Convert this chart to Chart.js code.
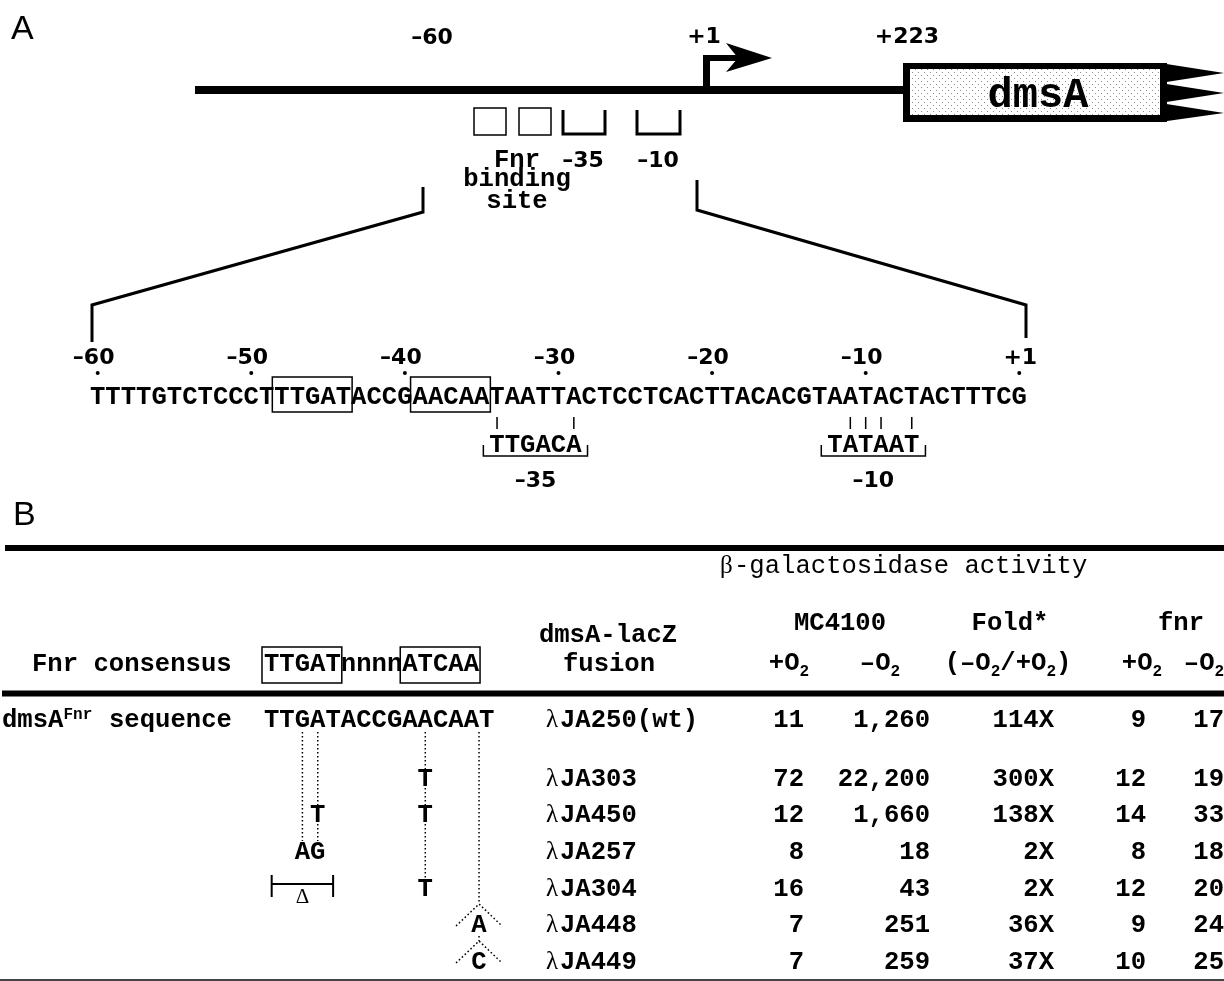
<!DOCTYPE html>
<html>
<head>
<meta charset="utf-8">
<script src="https://cdn.jsdelivr.net/npm/chart.js@4"></script>
<style>
  html, body { margin: 0; padding: 0; background: #fff; }
  #wrap { width: 1224px; height: 981px; }
</style>
</head>
<body>
<div id="wrap"><canvas id="fig" width="1224" height="981"></canvas></div>
<script>
// dmsA promoter region, -60 .. +1
const promoterSeq = 'TTTTGTCTCCCTTTGATACCGAACAATAATTACTCCTCACTTACACGTAATACTACTTTCG';
const seqTickLabels = ['–60', '–50', '–40', '–30', '–20', '–10', '+1'];
const seqTickIndex = [0, 10, 20, 30, 40, 50, 60];
const fnrHalfSites = [[12, 16], [21, 25]];
const minus35 = { consensus: 'TTGACA', start: 26, label: '–35' };
const minus10 = { consensus: 'TATAAT', start: 48, label: '–10' };
const mapLabels = ['–60', '+1', '+223'];
const geneName = 'dmsA';

// table B
const fnrConsensus = 'TTGATnnnnATCAA';
const fnrSiteSeq = 'TTGATACCGAACAAT';
const strains = ['JA250(wt)', 'JA303', 'JA450', 'JA257', 'JA304', 'JA448', 'JA449'];
const mcAerobic = [11, 72, 12, 8, 16, 7, 7];
const mcAnaerobic = [1260, 22200, 1660, 18, 43, 251, 259];
const foldChange = [114, 300, 138, 2, 2, 36, 37];
const fnrAerobic = [9, 12, 14, 8, 12, 9, 10];
const fnrAnaerobic = [17, 19, 33, 18, 20, 24, 25];
// changes in fnrSiteSeq: [index, new base]
const substitutions = [[], [[10, 'T']], [[3, 'T'], [10, 'T']], [[2, 'A'], [3, 'G']], [[10, 'T']], [], []];
const deletions = [null, null, null, null, [0, 4], null, null];
const insertions = [null, null, null, null, null, [14, 'A'], [14, 'C']];

const MONO = '"Liberation Mono", "DejaVu Sans Mono", monospace';
const SANS = '"DejaVu Sans", "Liberation Sans", sans-serif';
const SERIF = '"Liberation Serif", "DejaVu Serif", serif';
const F_SEQ = 'bold 25.6px ' + MONO;
const F_REG = '25.6px ' + MONO;
const F_SMALL = 'bold 16px ' + MONO;
const F_NUM = 'bold 22px ' + SANS;
const F_PANEL = '34px "Liberation Sans", sans-serif';
const F_GREEK = '25px ' + SERIF;

const CW = 15.36;      // advance of the mono font at 25.6px
const SEQ_LEFT = 90;
const TAB_LEFT = 264;
const rowY = [727, 786, 822, 859, 896, 932, 969];
const colRight = [804, 930, 1054, 1146, 1224];

function seqCx(i) { return SEQ_LEFT + CW * (i + 0.5); }
function tabCx(i) { return TAB_LEFT + CW * (i + 0.5); }

const lines = [];
function addLine(pts, w, dash, color) {
  lines.push({
    data: pts.map(p => ({ x: p[0], y: p[1] })),
    showLine: true,
    borderColor: color || '#000',
    borderWidth: w,
    borderDash: dash || [],
    pointRadius: 0,
    pointHoverRadius: 0,
    fill: false,
    tension: 0,
    borderCapStyle: 'butt',
    borderJoinStyle: 'miter'
  });
}

// panel A map
addLine([[195, 90], [905, 90]], 8);
addLine([[423, 187], [423, 212], [92, 305], [92, 342]], 3);
addLine([[697, 180], [697, 210], [1026, 305], [1026, 338]], 3);
addLine([[563, 110], [563, 134], [605, 134], [605, 110]], 3);
addLine([[637, 110], [637, 134], [680, 134], [680, 110]], 3);

// hexamer matches and brackets
[minus35, minus10].forEach(h => {
  for (let k = 0; k < h.consensus.length; k++) {
    if (promoterSeq[h.start + k] === h.consensus[k]) {
      addLine([[seqCx(h.start + k), 417], [seqCx(h.start + k), 429]], 1.5);
    }
  }
  const l = SEQ_LEFT + CW * h.start - 6;
  const r = SEQ_LEFT + CW * (h.start + h.consensus.length) + 6;
  addLine([[l, 445], [l, 456], [r, 456], [r, 445]], 1.5);
});

// table rules
addLine([[5, 548], [1224, 548]], 6);
addLine([[2, 693.5], [1224, 693.5]], 6);
addLine([[0, 980], [1224, 980]], 2, null, '#444');

// dotted guides for base changes
const DOT = [1.6, 2.4];
const lastRowFor = {};
substitutions.forEach((subs, r) => subs.forEach(s => { lastRowFor[s[0]] = r; }));
Object.keys(lastRowFor).forEach(i => {
  addLine([[tabCx(+i), 732], [tabCx(+i), rowY[lastRowFor[i]] - 18]], 1.5, DOT);
});
let prevBottom = 732;
insertions.forEach((ins, r) => {
  if (!ins) return;
  const x = TAB_LEFT + CW * ins[0];
  const apex = rowY[r] - 28;
  addLine([[x, prevBottom], [x, apex]], 1.5, DOT);
  addLine([[x - 23, rowY[r] - 6], [x, apex], [x + 23, rowY[r] - 6]], 1.5, DOT);
  prevBottom = rowY[r] + 4;
});
deletions.forEach((d, r) => {
  if (!d) return;
  const a = tabCx(d[0]), b = tabCx(d[1]), y = rowY[r] - 12;
  addLine([[a, y], [b, y]], 2);
  addLine([[a, y - 9], [a, y + 13]], 2);
  addLine([[b, y - 9], [b, y + 13]], 2);
});

function dotPattern(ctx) {
  const pc = document.createElement('canvas');
  pc.width = 6; pc.height = 6;
  const p = pc.getContext('2d');
  p.fillStyle = '#fff'; p.fillRect(0, 0, 6, 6);
  p.fillStyle = '#8a8a8a';
  p.fillRect(0, 0, 1, 1);
  p.fillRect(3, 3, 1, 1);
  return ctx.createPattern(pc, 'repeat');
}

const figurePlugin = {
  id: 'figure',
  beforeDraw(chart) {
    const ctx = chart.ctx;
    ctx.save();
    ctx.fillStyle = '#fff';
    ctx.fillRect(0, 0, chart.width, chart.height);
    ctx.restore();
  },
  afterDatasetsDraw(chart) {
    const ctx = chart.ctx;
    const X = v => chart.scales.x.getPixelForValue(v);
    const Y = v => chart.scales.y.getPixelForValue(v);
    ctx.save();
    ctx.fillStyle = '#000';
    ctx.strokeStyle = '#000';
    ctx.textBaseline = 'alphabetic';

    function text(s, x, y, font, align) {
      ctx.font = font;
      ctx.textAlign = align || 'left';
      ctx.fillText(s, X(x), Y(y));
    }
    function rich(parts, x, y, align) {
      let w = 0;
      parts.forEach(p => { ctx.font = p[1]; w += ctx.measureText(p[0]).width; });
      let cx = X(x);
      if (align === 'center') cx -= w / 2;
      if (align === 'right') cx -= w;
      ctx.textAlign = 'left';
      parts.forEach(p => {
        ctx.font = p[1];
        ctx.fillText(p[0], cx, Y(y + (p[2] || 0)));
        cx += ctx.measureText(p[0]).width;
      });
    }
    function box(x0, y0, x1, y1, w) {
      ctx.lineWidth = w;
      ctx.strokeRect(X(x0), Y(y0), X(x1) - X(x0), Y(y1) - Y(y0));
    }
    function poly(pts) {
      ctx.beginPath();
      pts.forEach((p, k) => k ? ctx.lineTo(X(p[0]), Y(p[1])) : ctx.moveTo(X(p[0]), Y(p[1])));
      ctx.closePath();
      ctx.fill();
    }

    // panel letters
    text('A', 11, 39, F_PANEL);
    text('B', 13, 525, F_PANEL);

    // map labels
    text(mapLabels[0], 432, 44, F_NUM, 'center');
    text(mapLabels[1], 704, 43, F_NUM, 'center');
    text(mapLabels[2], 907, 43, F_NUM, 'center');

    // transcription start arrow
    ctx.fillRect(X(703), Y(55), 7, Y(90) - Y(55));
    ctx.fillRect(X(703), Y(55), X(740) - X(703), 6);
    poly([[726, 43], [772, 58], [726, 72], [738, 58]]);

    // gene box
    ctx.fillRect(X(903), Y(63), X(1167) - X(903), Y(122) - Y(63));
    ctx.fillStyle = dotPattern(ctx);
    ctx.fillRect(X(910), Y(69), X(1160) - X(910), Y(115) - Y(69));
    ctx.fillStyle = '#000';
    poly([[1160, 63], [1224, 73], [1160, 83]]);
    poly([[1160, 83], [1224, 93], [1160, 103]]);
    poly([[1160, 103], [1224, 113], [1160, 122]]);
    text(geneName, 1038, 107, 'bold 42px ' + MONO, 'center');

    // promoter elements on the map
    box(474, 108, 506, 135, 1.5);
    box(519, 108, 551, 135, 1.5);
    text('Fnr', 517, 167, F_SEQ, 'center');
    text('binding', 517, 186, F_SEQ, 'center');
    text('site', 517, 208, F_SEQ, 'center');
    text(minus35.label, 583, 167, F_NUM, 'center');
    text(minus10.label, 658, 167, F_NUM, 'center');

    // promoter sequence
    seqTickIndex.forEach((idx, k) => {
      const off = seqTickLabels[k][0] === '+' ? 1 : -4;
      text(seqTickLabels[k], seqCx(idx) + off, 364, F_NUM, 'center');
      ctx.beginPath();
      ctx.arc(X(seqCx(idx)), Y(373), 2, 0, Math.PI * 2);
      ctx.fill();
    });
    for (let i = 0; i < promoterSeq.length; i++) {
      text(promoterSeq[i], seqCx(i), 404, F_SEQ, 'center');
    }
    fnrHalfSites.forEach(s => {
      box(SEQ_LEFT + CW * s[0] - 2, 377, SEQ_LEFT + CW * (s[1] + 1) + 1, 412, 1.5);
    });
    [minus35, minus10].forEach(h => {
      const mid = SEQ_LEFT + CW * (h.start + h.consensus.length / 2);
      text(h.consensus, mid, 452, F_SEQ, 'center');
      text(h.label, mid, 487, F_NUM, 'center');
    });

    // table header
    text('β', 720, 573, F_GREEK);
    text('-galactosidase activity', 734, 573, F_REG);
    text('MC4100', 840, 630, F_SEQ, 'center');
    text('Fold*', 1010, 630, F_SEQ, 'center');
    text('fnr', 1181, 630, F_SEQ, 'center');
    text('dmsA-lacZ', 608, 642, F_SEQ, 'center');
    text('fusion', 609, 671, F_SEQ, 'center');
    text('Fnr consensus', 32, 671, F_SEQ);
    for (let i = 0; i < fnrConsensus.length; i++) {
      text(fnrConsensus[i], tabCx(i), 671, F_SEQ, 'center');
    }
    box(TAB_LEFT - 2, 647, TAB_LEFT + CW * 5 + 1, 683, 1.5);
    box(TAB_LEFT + CW * 9 - 2, 647, TAB_LEFT + CW * 14 + 1, 683, 1.5);
    const O2 = s => [[s, F_SEQ], ['O', F_SEQ], ['2', F_SMALL, 6]];
    rich(O2('+'), 789, 670, 'center');
    rich(O2('–'), 880, 670, 'center');
    rich([['(', F_SEQ]].concat(O2('–'), [['/', F_SEQ]], O2('+'), [[')', F_SEQ]]), 1008, 670, 'center');
    rich(O2('+'), 1142, 670, 'center');
    rich(O2('–'), 1204, 670, 'center');

    // table body
    rich([['dmsA', F_SEQ], ['Fnr', F_SMALL, -8]], 2, rowY[0]);
    text('sequence', 109, rowY[0], F_SEQ);
    for (let i = 0; i < fnrSiteSeq.length; i++) {
      text(fnrSiteSeq[i], tabCx(i), rowY[0], F_SEQ, 'center');
    }
    strains.forEach((name, r) => {
      const y = rowY[r];
      text('λ', 546, y, F_GREEK);
      text(name, 560, y, F_SEQ);
      const cells = [
        String(mcAerobic[r]),
        mcAnaerobic[r].toLocaleString('en-US'),
        foldChange[r] + 'X',
        String(fnrAerobic[r]),
        String(fnrAnaerobic[r])
      ];
      cells.forEach((c, k) => text(c, colRight[k], y, F_SEQ, 'right'));
      substitutions[r].forEach(s => text(s[1], tabCx(s[0]), y, F_SEQ, 'center'));
      if (insertions[r]) text(insertions[r][1], TAB_LEFT + CW * insertions[r][0], y, F_SEQ, 'center');
      if (deletions[r]) {
        const mid = (tabCx(deletions[r][0]) + tabCx(deletions[r][1])) / 2;
        text('Δ', mid, y + 7, '21px ' + SERIF, 'center');
      }
    });
    ctx.restore();
  }
};

new Chart(document.getElementById('fig'), {
  type: 'scatter',
  data: { datasets: lines },
  options: {
    responsive: false,
    animation: false,
    devicePixelRatio: 1,
    events: [],
    layout: { padding: 0 },
    plugins: { legend: { display: false }, tooltip: { enabled: false } },
    scales: {
      x: { type: 'linear', min: 0, max: 1224, display: false },
      y: { type: 'linear', min: 0, max: 981, reverse: true, display: false }
    }
  },
  plugins: [figurePlugin]
});
</script>
</body>
</html>
